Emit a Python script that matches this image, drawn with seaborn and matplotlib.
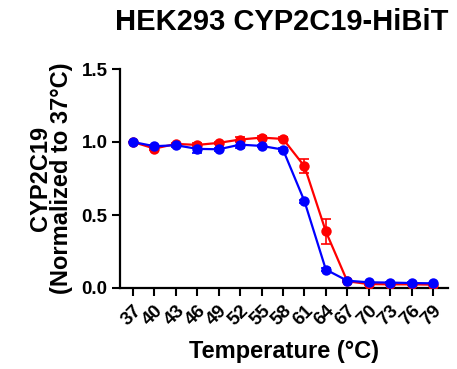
import matplotlib
matplotlib.use("Agg")
import matplotlib.pyplot as plt
import seaborn as sns
import pandas as pd
import numpy as np

temps = [37, 40, 43, 46, 49, 52, 55, 58, 61, 64, 67, 70, 73, 76, 79]
red_vals = [1.00, 0.955, 0.987, 0.980, 0.994, 1.017, 1.030, 1.021, 0.834, 0.387, 0.046, 0.027, 0.025, 0.025, 0.023]
red_err = [0.0, 0.012, 0.008, 0.01, 0.008, 0.018, 0.01, 0.01, 0.047, 0.085, 0.005, 0.004, 0.004, 0.004, 0.004]
blue_vals = [1.00, 0.971, 0.978, 0.953, 0.950, 0.982, 0.973, 0.948, 0.595, 0.126, 0.050, 0.039, 0.037, 0.034, 0.032]
blue_err = [0.0, 0.01, 0.01, 0.025, 0.01, 0.025, 0.008, 0.008, 0.01, 0.008, 0.004, 0.004, 0.004, 0.004, 0.004]
colors = {"Red": "#FF0000", "Blue": "#0000FF"}

title = "HEK293 CYP2C19-HiBiT"
xlabel = "Temperature (°C)"
ylabel = "CYP2C19\n(Normalized to 37°C)"

sns.set_style("ticks")
plt.rcParams['font.family'] = ['Liberation Sans', 'DejaVu Sans']
plt.rcParams['font.weight'] = 'bold'
for k in ['text.color', 'axes.labelcolor', 'xtick.color', 'ytick.color', 'axes.edgecolor']:
    plt.rcParams[k] = 'black'

df = pd.DataFrame({
    "temp": temps * 2,
    "value": red_vals + blue_vals,
    "series": ["Red"] * len(temps) + ["Blue"] * len(temps),
})

fig = plt.figure(figsize=(4.57, 3.69), dpi=100)
ax = fig.add_axes([120/457, 1 - 288/369, (448-120)/457, (288-69)/369])

for name, vals, errs in [("Red", red_vals, red_err), ("Blue", blue_vals, blue_err)]:
    sub = df[df.series == name]
    ax.errorbar(temps, vals, yerr=errs, fmt='none', ecolor=colors[name],
                elinewidth=1.2, capsize=3.5, capthick=1.2, zorder=2)
    sns.lineplot(data=sub, x="temp", y="value", color=colors[name], marker='o',
                 markersize=7.5, markeredgewidth=0, linewidth=1.6, ax=ax,
                 legend=False, zorder=3)

ax.set_xlim(35.18, 81.1)
ax.set_ylim(0, 1.5)
ax.set_xticks(temps)
ax.set_xticklabels([str(t) for t in temps], rotation=45, ha='right',
                   rotation_mode='anchor', fontsize=13.5, fontweight='bold')
ax.set_yticks([0.0, 0.5, 1.0, 1.5])
ax.set_yticklabels(["0.0", "0.5", "1.0", "1.5"], fontsize=13.5, fontweight='bold')
ax.tick_params(axis='both', direction='out', length=6, width=1.5, colors='black', pad=3)
ax.tick_params(axis='x', pad=4)
for s in ['left', 'bottom']:
    ax.spines[s].set_linewidth(1.6)
    ax.spines[s].set_color('black')
sns.despine(ax=ax)
ax.set_xlabel(xlabel, fontsize=17, fontweight='bold', labelpad=8)
ax.set_ylabel(ylabel, fontsize=17, fontweight='bold', linespacing=0.9, labelpad=6)
fig.text(282/457, 1 - 30/369, title, ha='center', va='baseline', fontsize=21, fontweight='bold')

fig.savefig("out.png", dpi=100)
